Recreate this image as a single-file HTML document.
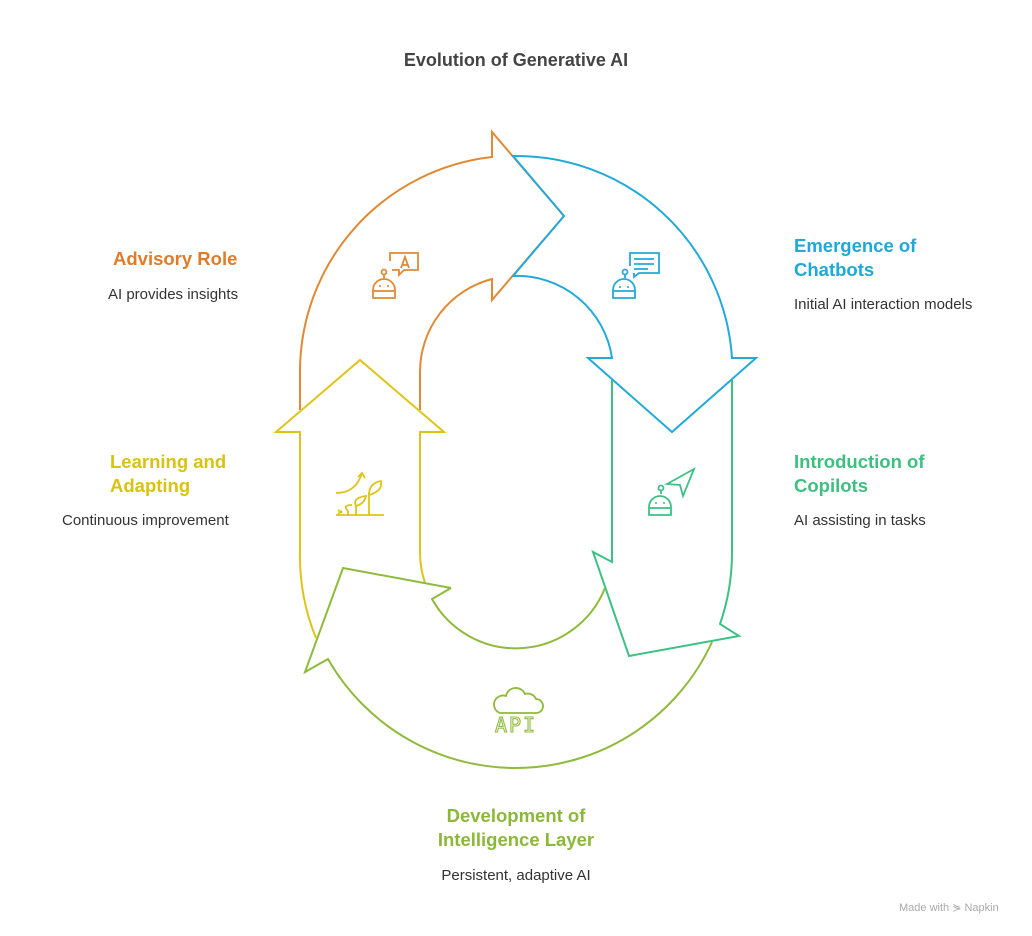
<!DOCTYPE html>
<html><head><meta charset="utf-8"><style>
body{margin:0;width:1032px;height:936px;background:#fff;position:relative;font-family:"Liberation Sans",sans-serif;overflow:hidden}
.t{position:absolute;white-space:nowrap}
.h{font-weight:bold;font-size:18.5px;line-height:24px}
.d{font-size:15px;line-height:18px;color:#333}
</style></head><body>
<div class="t" style="left:0;width:1032px;text-align:center;top:48px;font-size:18px;font-weight:bold;color:#444;line-height:24px">Evolution of Generative AI</div>

<div class="t h" style="left:113px;top:247px;color:#e07b2a">Advisory Role</div>
<div class="t d" style="left:108px;top:286px">AI provides insights</div>

<div class="t h" style="left:794px;top:234px;color:#1fa8d8">Emergence of<br>Chatbots</div>
<div class="t d" style="left:794px;top:296px">Initial AI interaction models</div>

<div class="t h" style="left:794px;top:450px;color:#3dbf80">Introduction of<br>Copilots</div>
<div class="t d" style="left:794px;top:512px">AI assisting in tasks</div>

<div class="t h" style="left:110px;top:450px;color:#d9c30f">Learning and<br>Adapting</div>
<div class="t d" style="left:62px;top:512px">Continuous improvement</div>

<div class="t h" style="left:0;width:1032px;text-align:center;top:804px;color:#8cb83a">Development of<br>Intelligence Layer</div>
<div class="t d" style="left:0;width:1032px;text-align:center;top:867px">Persistent, adaptive AI</div>

<div class="t" style="left:899px;top:901px;font-size:11px;color:#aaa">Made with ⋟ Napkin</div>

<svg width="1032" height="936" style="position:absolute;left:0;top:0" fill="none" stroke-width="2" stroke-linejoin="miter">
<path stroke="#e08a35" d="M300,410 L300,372 A216,216 0 0 1 492,157 L492,132 L564,216 L492,300 L492,279 A96,96 0 0 0 420,372 L420,410"/>
<path stroke="#22aad8" d="M513,156 A216,216 0 0 1 732,358 L756,358 L672,432 L588,358 L612,358 A96,96 0 0 0 513,276 L564,216 Z"/>
<path stroke="#dec41a" d="M316,638 A216,216 0 0 1 300,552 L300,432 L276,432 L360,360 L444,432 L420,432 L420,552 A96,96 0 0 0 425,583"/>
<path stroke="#3cc184" d="M612,380 L612,562 L593,552 L629,656 L739,636 L720,624 A216,216 0 0 0 732,552 L732,380"/>
<path stroke="#8fba3c" d="M451,588 L343,568 L305,672 L328,659 A216,216 0 0 0 712,642"/>
<path stroke="#8fba3c" d="M605,588 A96,96 0 0 1 432,599 L451,588"/>

<g stroke="#e08a35" stroke-width="1.8">
<path d="M390,261 v-8 h28 v17 h-14 l-5,5 v-5 h-7"/>
<path d="M401,268 l4,-11 l4,11 M402,265 h6"/>
<circle cx="384" cy="272" r="2.5"/>
<path d="M384,275 v3"/>
<path d="M373,298 v-8 a11,11 0 0 1 22,0 v8 z M373,291 h22"/>
</g>
<circle cx="380" cy="286" r="1" fill="#e08a35"/><circle cx="388" cy="286" r="1" fill="#e08a35"/>
<g stroke="#22aad8" stroke-width="1.8">
<path d="M630,266 v-13 h29 v20 h-20 l-5,4 v-4"/>
<path d="M634,259 h20 M634,264 h20 M634,269 h14"/>
<circle cx="625" cy="272" r="2.5"/>
<path d="M625,275 v3"/>
<path d="M613,298 v-8 a11,11 0 0 1 22,0 v8 z M613,291 h22"/>
</g>
<circle cx="620" cy="287" r="1" fill="#22aad8"/><circle cx="628" cy="287" r="1" fill="#22aad8"/>
<g stroke="#3cc184" stroke-width="1.8">
<path d="M667,484 L694,469 L683,496 L680,485 Z"/>
<circle cx="661" cy="488" r="2.5"/>
<path d="M661,491 v3"/>
<path d="M649,515 v-8 a11,11 0 0 1 22,0 v8 z M649,508 h22"/>
</g>
<circle cx="656" cy="503" r="1" fill="#3cc184"/><circle cx="664" cy="503" r="1" fill="#3cc184"/>
<g stroke="#dec41a" stroke-width="1.8">
<path d="M336,515 h48 M369,515 v-22 M369,495 q0,-12 12,-14 q2,10 -12,14 M356,515 v-10 M356,506 q-4,-8 10,-10 q-2,8 -10,10 M336,493 q20,0 26,-20 M358,477 l4,-4 l3,5 M348,515 v-4 q-6,-6 4,-6 M338,514 l4,-3 M338,510 l4,3"/>
</g>
<g stroke="#8fba3c" stroke-width="1.8">
<path d="M500,713 h36 a5,5 0 0 0 0,-14 a9,9 0 0 0 -11,-5 a10,10 0 0 0 -19,2 a7,7 0 0 0 -6,17 z"/>
</g>
<text x="516" y="732" text-anchor="middle" font-family="DejaVu Sans Mono,monospace" font-size="20" fill="none" stroke="#8fba3c" stroke-width="1.1" letter-spacing="2">API</text>
</svg>
</body></html>
